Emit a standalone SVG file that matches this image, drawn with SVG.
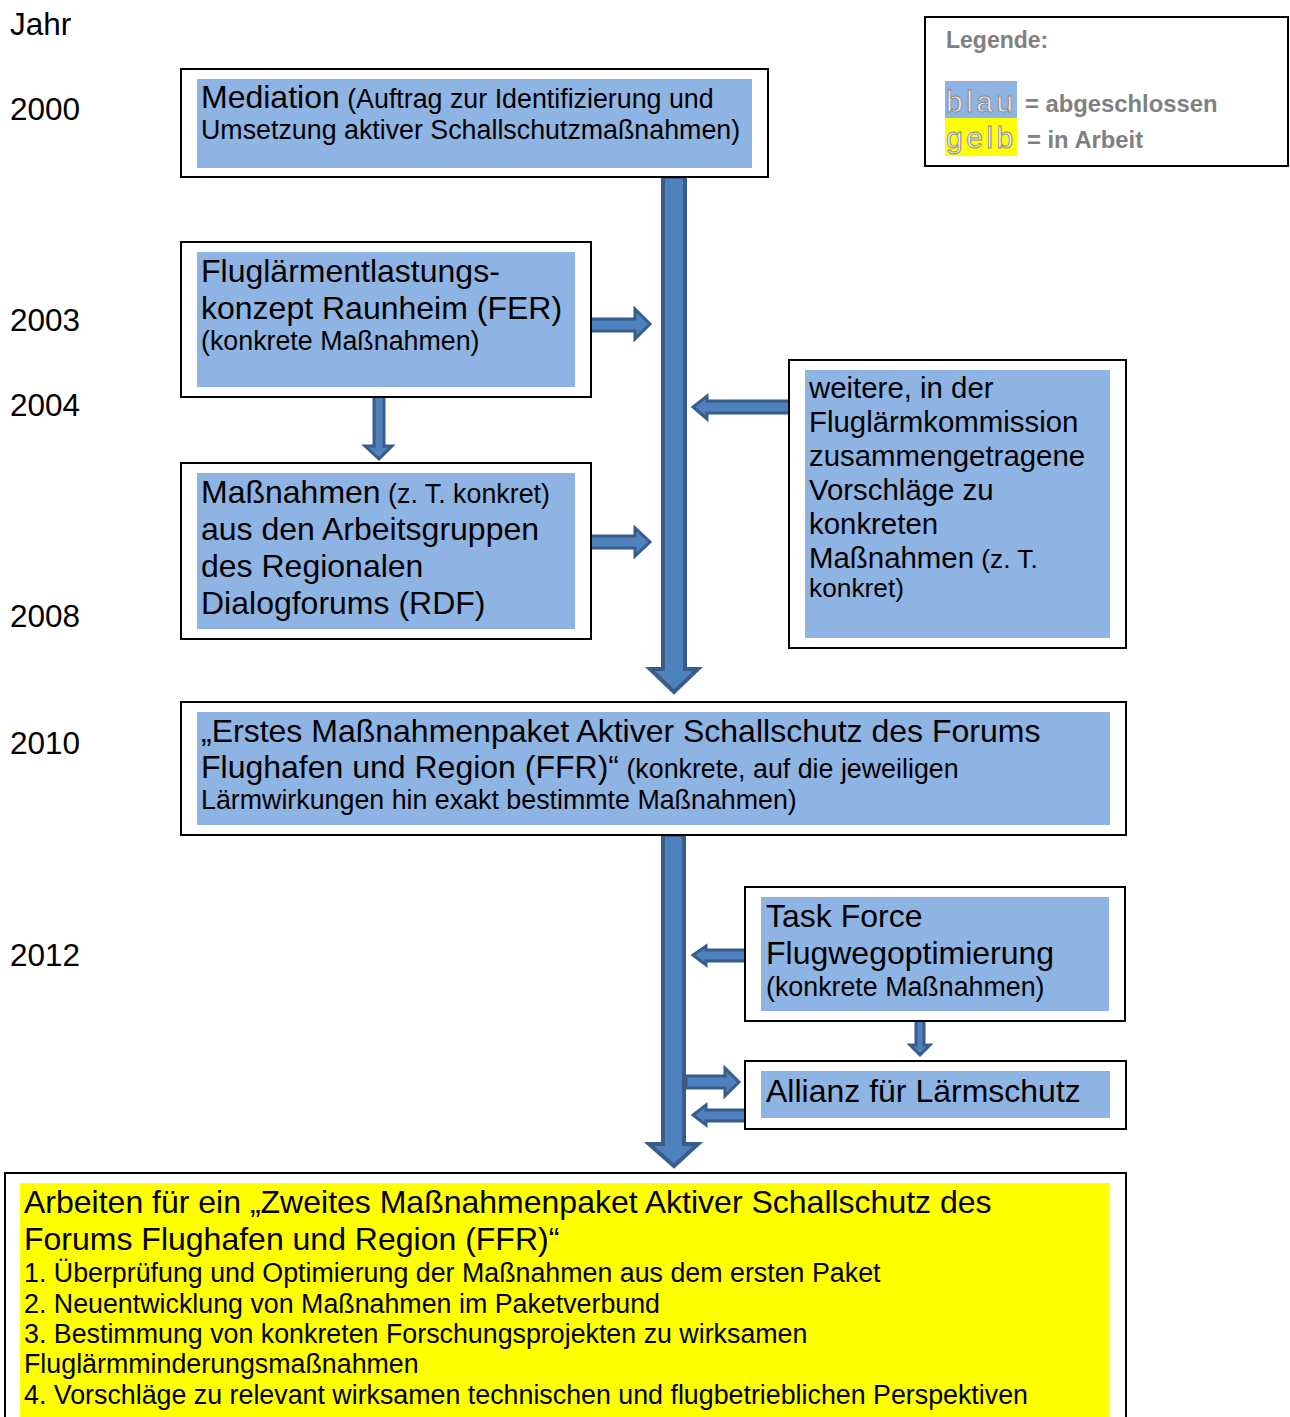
<svg xmlns="http://www.w3.org/2000/svg" width="1290" height="1417" viewBox="0 0 1290 1417">
<style>
text{font-family:"Liberation Sans",Arial,sans-serif;fill:#000}
.frame{fill:#fff;stroke:#000;stroke-width:2}
.blue{fill:#8EB4E3}
.yellow{fill:#FFFF00}
.big{font-size:32px}
.sm{font-size:26.8px}
.mid{font-size:29.4px}
.yr{font-size:31.5px}
.arr{fill:#4F81BD;stroke:#385D8A;stroke-linejoin:miter}
.leg{font-size:23px;font-weight:bold;fill:#808080}
.leg2{font-size:23.8px;font-weight:bold;fill:#808080}
.wa{font-size:30px;letter-spacing:3.5px;fill:#eeeeee;stroke:#8a8a8a;stroke-width:0.9}
</style>
<rect width="1290" height="1417" fill="#fff"/>

<g id="years">
<text class="yr" x="10" y="35">Jahr</text>
<text class="yr" x="10" y="120">2000</text>
<text class="yr" x="10" y="331">2003</text>
<text class="yr" x="10" y="416">2004</text>
<text class="yr" x="10" y="627">2008</text>
<text class="yr" x="10" y="754">2010</text>
<text class="yr" x="10" y="966">2012</text>
</g>

<g id="legend">
<rect class="frame" x="925" y="17" width="363" height="149"/>
<text class="leg" x="946" y="48">Legende:</text>
<rect x="945" y="81" width="72" height="37" fill="#8EB4E3"/>
<rect x="945" y="118" width="72" height="38" fill="#FFFF00"/>
<text class="wa" x="946" y="112">blau</text>
<text class="wa" x="946" y="148">gelb</text>
<text class="leg2" x="1025" y="112">= abgeschlossen</text>
<text class="leg2" x="1027" y="148">= in Arbeit</text>
</g>

<g id="connectors">
<path class="arr" stroke-width="4" d="M663,177 L685,177 L685,669 L698,669 L674,692 L650,669 L663,669 Z"/>
<path class="arr" stroke-width="4" d="M663,835 L684,835 L684,1144 L698,1144 L674,1166 L649,1144 L663,1144 Z"/>
<path class="arr" stroke-width="3" d="M589,319 L635,319 L635,309 L650,324 L635,339 L635,331 L589,331 Z"/>
<path class="arr" stroke-width="3" d="M589,536 L635,536 L635,528 L650,542 L635,556 L635,548 L589,548 Z"/>
<path class="arr" stroke-width="3" d="M791,401 L707,401 L707,396 L693,407 L707,419 L707,413 L791,413 Z"/>
<path class="arr" stroke-width="3" d="M747,950 L706,950 L706,946 L693,955 L706,965 L706,961 L747,961 Z"/>
<path class="arr" stroke-width="3" d="M686,1076 L725,1076 L725,1068 L739,1082 L725,1096 L725,1088 L686,1088 Z"/>
<path class="arr" stroke-width="3" d="M747,1110 L706,1110 L706,1105 L693,1115 L706,1125 L706,1121 L747,1121 Z"/>
<path class="arr" stroke-width="3" d="M374,396 L384,396 L384,446 L392,446 L379,459 L365,446 L374,446 Z"/>
<path class="arr" stroke-width="3" d="M916,1019 L924,1019 L924,1045 L930,1045 L920,1055 L910,1045 L916,1045 Z"/>
</g>

<g id="node-mediation">
<rect class="frame" x="181" y="69" width="587" height="108"/>
<rect class="blue" x="197" y="79" width="555" height="89"/>
<text x="201" y="108"><tspan class="big">Mediation</tspan><tspan class="sm"> (Auftrag zur Identifizierung und</tspan></text>
<text class="sm" x="201" y="139">Umsetzung aktiver Schallschutzmaßnahmen)</text>
</g>

<g id="node-fer">
<rect class="frame" x="181" y="242" width="410" height="155"/>
<rect class="blue" x="197" y="252" width="378" height="135"/>
<text class="big" x="201" y="282">Fluglärmentlastungs-</text>
<text class="big" x="201" y="319">konzept Raunheim (FER)</text>
<text class="sm" x="201" y="350">(konkrete Maßnahmen)</text>
</g>

<g id="node-rdf">
<rect class="frame" x="181" y="463" width="410" height="176"/>
<rect class="blue" x="197" y="473" width="378" height="156"/>
<text x="201" y="503"><tspan class="big">Maßnahmen</tspan><tspan class="sm"> (z. T. konkret)</tspan></text>
<text class="big" x="201" y="540">aus den Arbeitsgruppen</text>
<text class="big" x="201" y="577">des Regionalen</text>
<text class="big" x="201" y="614">Dialogforums (RDF)</text>
</g>

<g id="node-flk">
<rect class="frame" x="789" y="360" width="337" height="288"/>
<rect class="blue" x="805" y="370" width="305" height="268"/>
<text class="mid" x="809" y="398">weitere, in der</text>
<text class="mid" x="809" y="432">Fluglärmkommission</text>
<text class="mid" x="809" y="466">zusammengetragene</text>
<text class="mid" x="809" y="500">Vorschläge zu</text>
<text class="mid" x="809" y="534">konkreten</text>
<text x="809" y="568"><tspan class="mid">Maßnahmen</tspan><tspan style="font-size:26.3px"> (z. T.</tspan></text>
<text style="font-size:26.3px" x="809" y="597">konkret)</text>
</g>

<g id="node-ffr1">
<rect class="frame" x="181" y="702" width="945" height="133"/>
<rect class="blue" x="197" y="712" width="913" height="113"/>
<text class="big" x="201" y="742">„Erstes Maßnahmenpaket Aktiver Schallschutz des Forums</text>
<text x="201" y="778"><tspan class="big">Flughafen und Region (FFR)“</tspan><tspan class="sm"> (konkrete, auf die jeweiligen</tspan></text>
<text class="sm" x="201" y="809">Lärmwirkungen hin exakt bestimmte Maßnahmen)</text>
</g>

<g id="node-taskforce">
<rect class="frame" x="745" y="887" width="380" height="134"/>
<rect class="blue" x="761" y="897" width="348" height="114"/>
<text class="big" x="766" y="927">Task Force</text>
<text class="big" x="766" y="964">Flugwegoptimierung</text>
<text class="sm" x="766" y="996">(konkrete Maßnahmen)</text>
</g>

<g id="node-allianz">
<rect class="frame" x="745" y="1061" width="381" height="68"/>
<rect class="blue" x="761" y="1071" width="349" height="47"/>
<text class="big" x="766" y="1102">Allianz für Lärmschutz</text>
</g>

<g id="node-ffr2">
<rect class="frame" x="5" y="1173" width="1121" height="250"/>
<rect class="yellow" x="20" y="1183" width="1090" height="240"/>
<text class="big" x="24" y="1213">Arbeiten für ein „Zweites Maßnahmenpaket Aktiver Schallschutz des</text>
<text class="big" x="24" y="1250">Forums Flughafen und Region (FFR)“</text>
<text class="sm" x="24" y="1282">1. Überprüfung und Optimierung der Maßnahmen aus dem ersten Paket</text>
<text class="sm" x="24" y="1313">2. Neuentwicklung von Maßnahmen im Paketverbund</text>
<text class="sm" x="24" y="1343">3. Bestimmung von konkreten Forschungsprojekten zu wirksamen</text>
<text class="sm" x="24" y="1373">Fluglärmminderungsmaßnahmen</text>
<text class="sm" x="24" y="1404">4. Vorschläge zu relevant wirksamen technischen und flugbetrieblichen Perspektiven</text>
</g>
</svg>
